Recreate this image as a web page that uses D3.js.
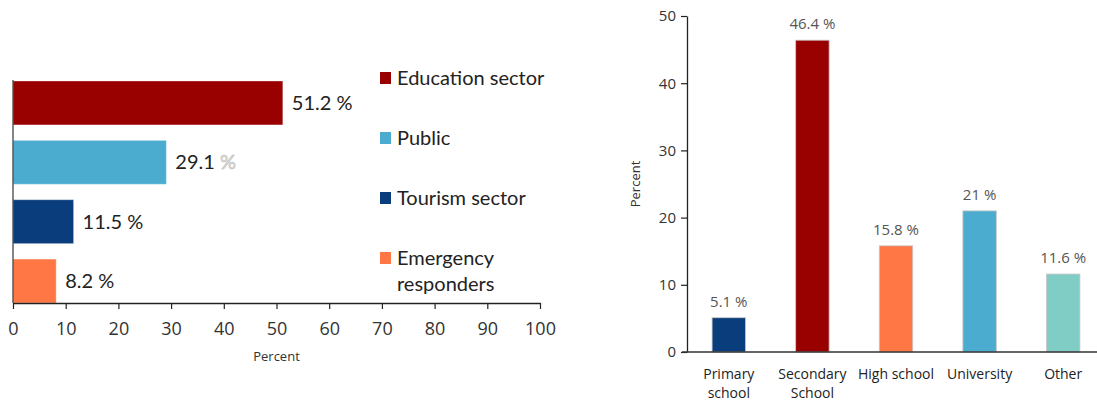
<!DOCTYPE html>
<html>
<head>
<meta charset="utf-8">
<script src="https://cdn.jsdelivr.net/npm/d3@7"></script>
<style>
  html, body { margin: 0; padding: 0; background: #fff; }
  svg { display: block; }
</style>
</head>
<body>
<svg id="chart" width="1097" height="401"></svg>
<script>
// Left panel: respondents by group
const groups = ["Education sector", "Public", "Tourism sector", "Emergency responders"];
const groupValues = [51.2, 29.1, 11.5, 8.2];
const groupColors = ["#990000", "#4bacd0", "#0a3d7c", "#ff7744"];
const percentTicks = [0, 10, 20, 30, 40, 50, 60, 70, 80, 90, 100];

// Right panel: respondents by education level
const levels = ["Primary school", "Secondary School", "High school", "University", "Other"];
const levelValues = [5.1, 46.4, 15.8, 21, 11.6];
const levelLabels = ["5.1 %", "46.4 %", "15.8 %", "21 %", "11.6 %"];
const levelColors = ["#0a3d7c", "#990000", "#ff7744", "#4bacd0", "#7fcdc4"];
const levelTicks = [0, 10, 20, 30, 40, 50];

const svg = d3.select("#chart");
const fontL = "Lato, 'Open Sans', sans-serif";
const fontR = "'Open Sans', sans-serif";

// ---------- Left: horizontal bars ----------
const x = d3.scaleLinear().domain([0, 100]).range([13, 540]);
const yL = d3.scaleBand().domain(groups).range([81, 303]).paddingInner(0.26).paddingOuter(0);

const left = svg.append("g");
left.selectAll("rect.bar").data(groups).join("rect")
  .attr("class", "bar")
  .attr("x", x(0))
  .attr("y", d => yL(d))
  .attr("width", (d, i) => x(groupValues[i]) - x(0))
  .attr("height", yL.bandwidth())
  .attr("fill", (d, i) => groupColors[i])
  .attr("stroke", "#ffffff").attr("stroke-opacity", 0.35).attr("stroke-width", 1);

const vlab = left.selectAll("text.val").data(groups).join("text")
  .attr("class", "val")
  .attr("x", (d, i) => x(groupValues[i]) + 9)
  .attr("y", d => yL(d) + yL.bandwidth() / 2 + 7)
  .attr("font-family", fontL).attr("font-size", 20).attr("fill", "#222");
vlab.append("tspan").text((d, i) => groupValues[i] + " ");
vlab.append("tspan").text("%")
  .attr("fill", (d, i) => i === 1 ? "#ececec" : "#222")
  .attr("stroke", (d, i) => i === 1 ? "#b8b8b8" : "none")
  .attr("stroke-width", 0.6);

// axes
const xAxis = left.append("g").attr("transform", "translate(0,303)")
  .call(d3.axisBottom(x).tickValues(percentTicks).tickSize(6).tickSizeOuter(0).tickPadding(13));
xAxis.select(".domain").attr("stroke", "#222").attr("stroke-width", 1.3);
xAxis.selectAll(".tick line").attr("stroke", "#222").attr("stroke-width", 1.2);
xAxis.selectAll(".tick text").attr("font-family", fontR).attr("font-size", 18).attr("fill", "#333");

left.append("line")
  .attr("x1", x(0)).attr("x2", x(0)).attr("y1", 80).attr("y2", 303)
  .attr("stroke", "#444").attr("stroke-width", 1.3);

left.append("text").attr("x", x(50)).attr("y", 361).attr("text-anchor", "middle")
  .attr("font-family", fontR).attr("font-size", 13).attr("fill", "#333").text("Percent");

// legend
const legend = left.append("g").attr("transform", "translate(380,0)");
const legItems = legend.selectAll("g").data(groups).join("g")
  .attr("transform", (d, i) => `translate(0,${78 + i * 60})`);
legItems.append("rect").attr("x", 0).attr("y", -6).attr("width", 11).attr("height", 12)
  .attr("fill", (d, i) => groupColors[i]);
legItems.each(function (d) {
  const words = d === "Emergency responders" ? ["Emergency", "responders"] : [d];
  const t = d3.select(this).append("text")
    .attr("font-family", fontL).attr("font-size", 20).attr("fill", "#222");
  words.forEach((w, k) => t.append("tspan").attr("x", 17).attr("y", 7 + k * 26).text(w));
});

// ---------- Right: vertical bars ----------
const xR = d3.scaleBand().domain(levels).range([687, 1105]).paddingInner(0.6).paddingOuter(0.3);
const yR = d3.scaleLinear().domain([0, 50]).range([352, 16]);

const right = svg.append("g");
right.selectAll("rect.bar").data(levels).join("rect")
  .attr("class", "bar")
  .attr("x", d => xR(d))
  .attr("y", (d, i) => yR(levelValues[i]))
  .attr("width", xR.bandwidth())
  .attr("height", (d, i) => yR(0) - yR(levelValues[i]))
  .attr("fill", (d, i) => levelColors[i])
  .attr("stroke", "#c8c8c8").attr("stroke-width", 0.8);

right.selectAll("text.val").data(levels).join("text")
  .attr("class", "val")
  .attr("x", d => xR(d) + xR.bandwidth() / 2)
  .attr("y", (d, i) => yR(levelValues[i]) - 11)
  .attr("text-anchor", "middle")
  .attr("font-family", fontR).attr("font-size", 15).attr("fill", "#555")
  .text((d, i) => levelLabels[i]);

const yAxis = right.append("g").attr("transform", "translate(687,0)")
  .call(d3.axisLeft(yR).tickValues(levelTicks).tickSize(6).tickSizeOuter(0).tickPadding(5));
yAxis.select(".domain").attr("stroke", "#222").attr("stroke-width", 1.3);
yAxis.selectAll(".tick line").attr("stroke", "#222").attr("stroke-width", 1.2);
yAxis.selectAll(".tick text").attr("font-family", fontR).attr("font-size", 15).attr("fill", "#333");

right.append("line").attr("x1", 682).attr("x2", 1097).attr("y1", yR(0)).attr("y2", yR(0))
  .attr("stroke", "#333").attr("stroke-width", 1.5);

right.append("text")
  .attr("transform", `translate(640,${yR(25)}) rotate(-90)`)
  .attr("text-anchor", "middle")
  .attr("font-family", fontR).attr("font-size", 13).attr("fill", "#333").text("Percent");

const catLines = {
  "Primary school": ["Primary", "school"],
  "Secondary School": ["Secondary", "School"]
};
right.selectAll("text.cat").data(levels).join("text")
  .attr("class", "cat")
  .attr("text-anchor", "middle")
  .attr("font-family", fontR).attr("font-size", 14).attr("fill", "#222")
  .each(function (d) {
    const lines = catLines[d] || [d];
    const t = d3.select(this);
    lines.forEach((w, k) => t.append("tspan")
      .attr("x", xR(d) + xR.bandwidth() / 2).attr("y", 379 + k * 19).text(w));
  });
</script>
</body>
</html>
